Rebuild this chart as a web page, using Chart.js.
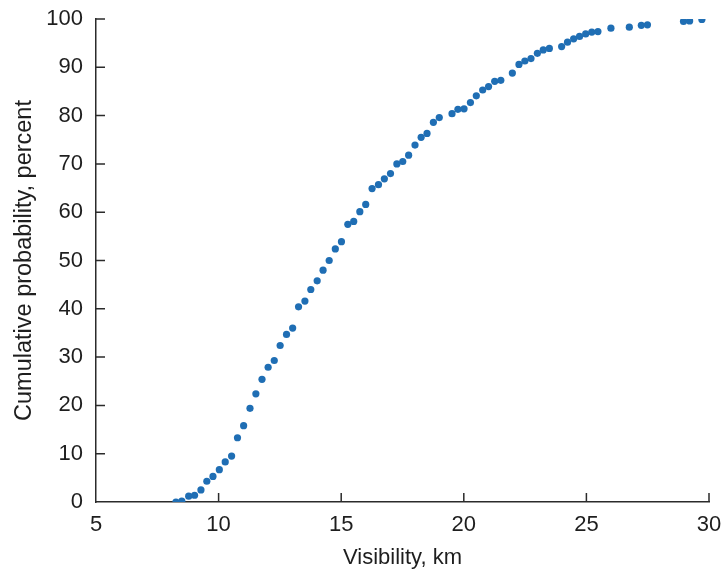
<!DOCTYPE html>
<html>
<head>
<meta charset="utf-8">
<script src="https://cdn.jsdelivr.net/npm/chart.js@4.4.1/dist/chart.umd.min.js"></script>
<style>
  html, body { margin: 0; padding: 0; background: #fff; }
  #wrap { width: 724px; height: 572px; }
</style>
</head>
<body>
<div id="wrap"><canvas id="visChart" width="724" height="572"></canvas></div>
<script>
// visibility (km) and cumulative probability (%)
const visibilityKm = [
    8.26, 8.5, 8.78, 9.02, 9.28, 9.52, 9.77, 10.03, 10.27, 10.53,
    10.77, 11.02, 11.28, 11.52, 11.77, 12.02, 12.27, 12.51, 12.77, 13.02,
    13.26, 13.52, 13.76, 14.02, 14.26, 14.51, 14.76, 15.01, 15.27, 15.51,
    15.76, 16.0, 16.26, 16.52, 16.76, 17.01, 17.27, 17.51, 17.75, 18.01,
    18.26, 18.5, 18.76, 19.0, 19.52, 19.76, 20.01, 20.27, 20.51, 20.77,
    21.01, 21.26, 21.51, 21.98, 22.25, 22.49, 22.74, 23.0, 23.24, 23.49,
    23.99, 24.23, 24.48, 24.72, 24.97, 25.22, 25.47, 26.0, 26.75, 27.24,
    27.49, 28.96, 29.21, 29.71
];
const cumulativePercent = [
    0, 0.2, 1.2, 1.4, 2.5, 4.3, 5.3, 6.7, 8.3, 9.5,
    13.3, 15.8, 19.4, 22.4, 25.4, 27.9, 29.3, 32.4, 34.7, 36.0,
    40.4, 41.6, 44.0, 45.8, 48.0, 50.0, 52.4, 53.9, 57.5, 58.1,
    60.1, 61.6, 64.9, 65.7, 66.9, 68.0, 70.0, 70.5, 71.8, 73.9,
    75.5, 76.3, 78.6, 79.6, 80.4, 81.3, 81.4, 82.7, 84.1, 85.3,
    86.0, 87.1, 87.3, 88.8, 90.6, 91.3, 91.8, 92.9, 93.6, 93.9,
    94.3, 95.2, 95.9, 96.4, 96.9, 97.3, 97.4, 98.1, 98.3, 98.7,
    98.8, 99.5, 99.6, 99.9
];
const xRange = [5, 30];
const xStep = 5;
const yRange = [0, 100];
const yStep = 10;

const points = visibilityKm.map((v, i) => ({ x: v, y: cumulativePercent[i] }));

const axisColor = '#2b2b2b';
const textColor = '#1e1e1e';
const fontFamily = '"Liberation Sans", Arial, sans-serif';

// tick marks pointing into the plot
const innerTicks = {
    id: 'innerTicks',
    afterDraw(chart) {
        const ctx = chart.ctx;
        const xs = chart.scales.x, ys = chart.scales.y;
        const len = 9;
        ctx.save();
        ctx.strokeStyle = axisColor;
        ctx.lineWidth = 1.5;
        ctx.beginPath();
        xs.ticks.forEach(t => {
            if (t.value === xRange[0]) return;
            const px = xs.getPixelForValue(t.value);
            ctx.moveTo(px, ys.bottom);
            ctx.lineTo(px, ys.bottom - len);
        });
        ys.ticks.forEach(t => {
            if (t.value === yRange[0]) return;
            const py = ys.getPixelForValue(t.value);
            ctx.moveTo(xs.left, py);
            ctx.lineTo(xs.left + len, py);
        });
        ctx.stroke();
        ctx.restore();
    }
};

document.addEventListener("DOMContentLoaded", function () {
    const canvas = document.getElementById("visChart");
    const ctx = canvas.getContext("2d");
    new Chart(ctx, {
        type: 'scatter',
        data: {
            datasets: [{
                data: points,
                backgroundColor: '#1f6eb4',
                borderColor: '#1f6eb4',
                pointRadius: 3.6,
                borderWidth: 0
            }]
        },
        options: {
            responsive: false,
            animation: false,
            layout: { padding: { top: 19, right: 15, left: 0, bottom: 0 } },
            plugins: { legend: { display: false }, tooltip: { enabled: false } },
            scales: {
                x: {
                    type: 'linear',
                    min: xRange[0],
                    max: xRange[1],
                    afterFit: s => {
                        s.height = 70;
                        s.paddingLeft = 0;
                        s.paddingRight = 0;
                    },
                    grid: { display: false, drawTicks: false },
                    border: { display: true, color: axisColor, width: 1.5 },
                    ticks: {
                        stepSize: xStep,
                        padding: 10,
                        color: textColor,
                        font: { family: fontFamily, size: 22 }
                    },
                    title: {
                        display: true,
                        text: 'Visibility, km',
                        color: textColor,
                        font: { family: fontFamily, size: 22 },
                        padding: { top: 0, bottom: 1 }
                    }
                },
                y: {
                    type: 'linear',
                    min: yRange[0],
                    max: yRange[1],
                    afterFit: s => {
                        s.width = 96;
                        s.paddingTop = 0;
                        s.paddingBottom = 0;
                    },
                    grid: { display: false, drawTicks: false },
                    border: { display: true, color: axisColor, width: 1.5 },
                    ticks: {
                        stepSize: yStep,
                        padding: 13,
                        color: textColor,
                        font: { family: fontFamily, size: 22 }
                    },
                    title: {
                        display: true,
                        text: 'Cumulative probability, percent',
                        color: textColor,
                        font: { family: fontFamily, size: 23.5 },
                        padding: { top: 10, bottom: 0 }
                    }
                }
            }
        },
        plugins: [innerTicks]
    });
});
</script>
</body>
</html>
